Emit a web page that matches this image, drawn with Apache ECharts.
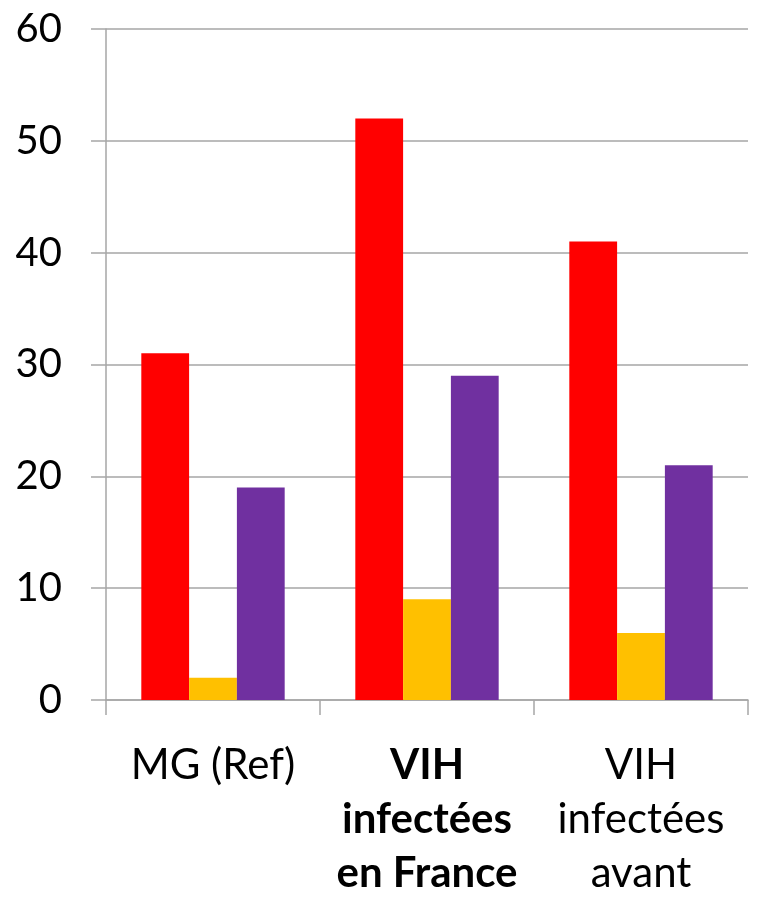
<!DOCTYPE html>
<html><head><meta charset="utf-8">
<script src="https://cdn.jsdelivr.net/npm/echarts@6/dist/echarts.min.js"></script>
<style>html,body{margin:0;padding:0;background:#fff}#c{width:761px;height:906px}</style>
</head><body><div id="c"></div>
<script>
const categories = ['MG (Ref)', 'VIH\ninfectées\nen France', 'VIH\ninfectées\navant'];
const redValues = [31, 52, 41];
const orangeValues = [2, 9, 6];
const purpleValues = [19, 29, 21];
const yTicks = [0, 10, 20, 30, 40, 50, 60];

const chart = echarts.init(document.getElementById('c'));
const font = 'Lato, "Open Sans", sans-serif';
chart.setOption({
  animation: false,
  grid: {left: 106, right: 13, top: 29, bottom: 206, containLabel: false, outerBoundsMode: 'none'},
  xAxis: {
    type: 'category', data: categories,
    axisLine: {lineStyle: {color: '#A6A6A6', width: 1.5}},
    axisTick: {show: true, interval: 0, length: 15, lineStyle: {color: '#A6A6A6', width: 1.5}},
    axisLabel: {
      interval: 0, hideOverlap: false,
      margin: 38, fontSize: 42, color: '#000', fontFamily: font, lineHeight: 54,
      formatter: function (v, i) { return i === 1 ? '{b|' + v.split('\n').join('}\n{b|') + '}' : v; },
      rich: {b: {fontWeight: 'bold', fontSize: 42, lineHeight: 54, color: '#000', fontFamily: font}}
    }
  },
  yAxis: {
    type: 'value', min: yTicks[0], max: yTicks[yTicks.length - 1], interval: 10,
    axisLine: {show: true, lineStyle: {color: '#A6A6A6', width: 1.5}},
    axisTick: {show: true, length: 15, lineStyle: {color: '#A6A6A6', width: 1.5}},
    splitLine: {lineStyle: {color: '#A6A6A6', width: 1.5}},
    axisLabel: {margin: 44, fontSize: 40, color: '#000', fontFamily: font}
  },
  series: [
    {type: 'bar', data: redValues, itemStyle: {color: '#FF0000'}, barGap: '0%', barCategoryGap: '33%'},
    {type: 'bar', data: orangeValues, itemStyle: {color: '#FFC000'}},
    {type: 'bar', data: purpleValues, itemStyle: {color: '#7030A0'}}
  ]
});
</script></body></html>
